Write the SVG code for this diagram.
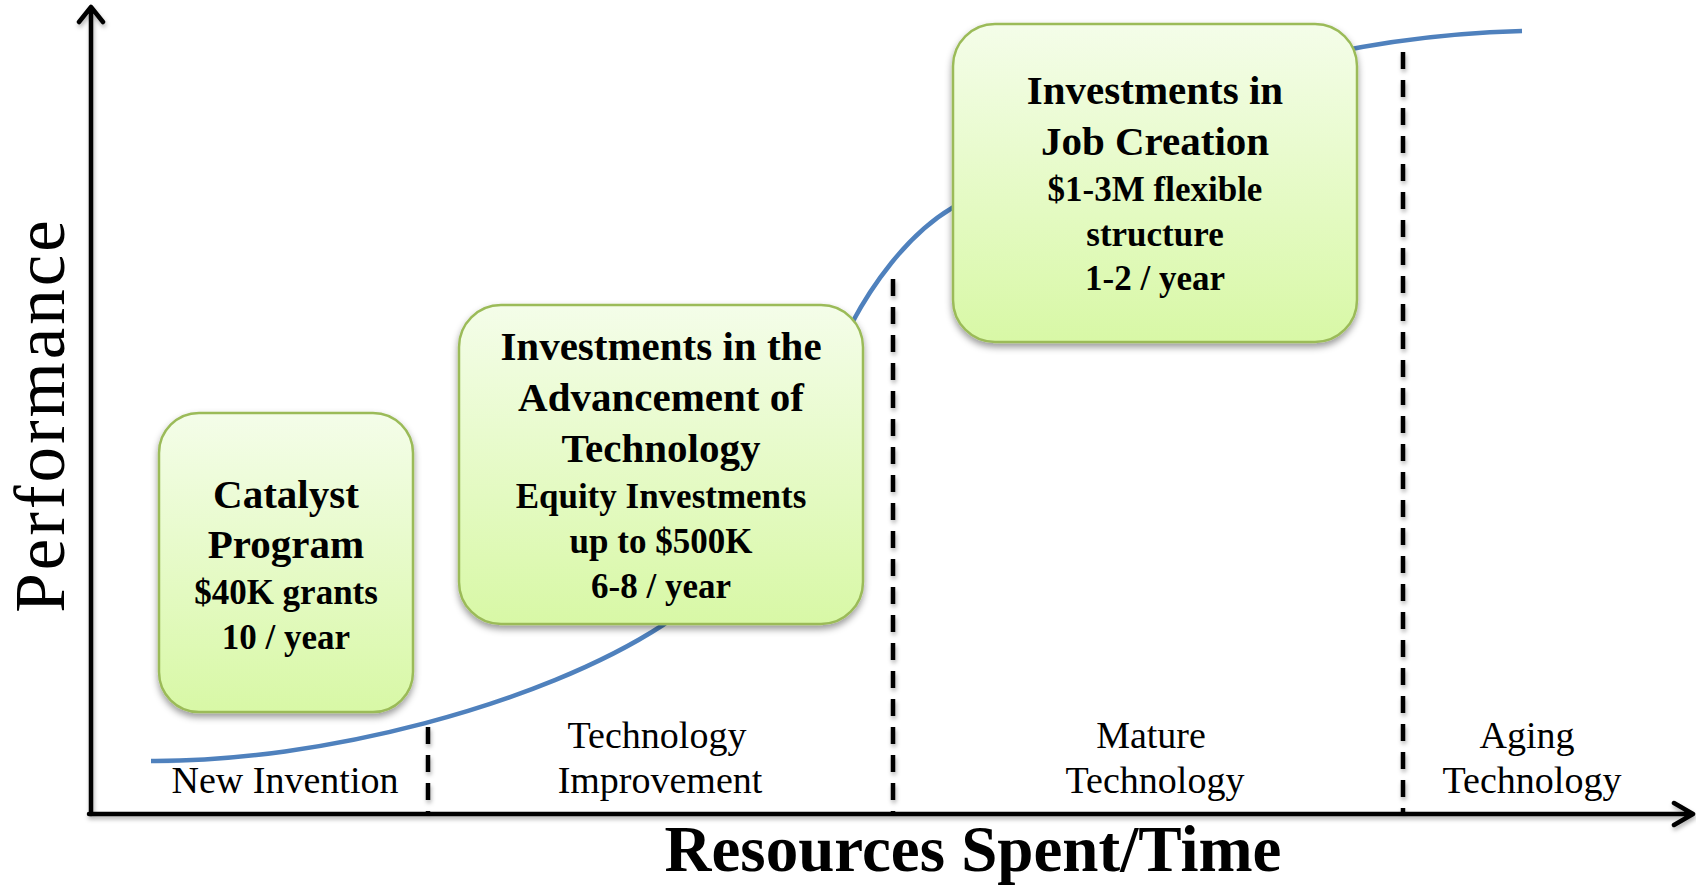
<svg xmlns="http://www.w3.org/2000/svg" width="1696" height="886" viewBox="0 0 1696 886">
<style>
.box{fill:url(#boxGrad);stroke:#9bbb59;stroke-width:2.5;filter:url(#shadow)}
.bt{font-family:"Liberation Serif",serif;font-weight:bold;font-size:41px;fill:#000;text-anchor:middle}
.bs{font-family:"Liberation Serif",serif;font-weight:bold;font-size:35px;fill:#000;text-anchor:middle}
.lbl{font-family:"Liberation Serif",serif;font-size:38px;fill:#000;text-anchor:middle}
.axis{stroke:#000;stroke-width:4.5;fill:none;stroke-linecap:round;stroke-linejoin:round}
.dash{stroke:#000;stroke-width:4.5;stroke-dasharray:17 11;fill:none}
.curve{stroke:#4f81bd;stroke-width:4.5;fill:none}
</style>
<defs>
<linearGradient id="boxGrad" x1="0" y1="0" x2="0" y2="1">
<stop offset="0" stop-color="#f4fde9"/>
<stop offset="1" stop-color="#d8f8a6"/>
</linearGradient>
<filter id="shadow" x="-10%" y="-10%" width="120%" height="125%">
<feDropShadow dx="0" dy="4" stdDeviation="3.5" flood-color="#000" flood-opacity="0.4"/>
</filter>
<filter id="lshadow" x="-5%" y="-5%" width="110%" height="110%">
<feDropShadow dx="1" dy="3" stdDeviation="2" flood-color="#000" flood-opacity="0.3"/>
</filter>
</defs>

<g id="connectors">
<path class="curve" d="M151,761 C320,762 540,705 663,625 C730,582 800,422 852,323 C870,289 905,236 952,208 C1060,143 1250,38 1522,31"/>
<g filter="url(#lshadow)">
<line class="dash" x1="428" y1="727" x2="428" y2="814"/>
<line class="dash" x1="893" y1="279" x2="893" y2="814"/>
<line class="dash" x1="1403" y1="52" x2="1403" y2="814"/>
<path class="axis" d="M91,814 L91,7 M79,22 L91,7 L103,22"/>
<path class="axis" d="M89,814 L1693,814 M1674,803 L1693,814 L1674,825"/>
</g>
</g>

<g id="node-catalyst">
<rect class="box" x="159" y="413" width="254" height="299" rx="40" ry="40"/>
<text class="bt" x="286" y="508">Catalyst</text>
<text class="bt" x="286" y="558">Program</text>
<text class="bs" x="286" y="604">$40K grants</text>
<text class="bs" x="286" y="649">10 / year</text>
</g>

<g id="node-advancement">
<rect class="box" x="459" y="305" width="404" height="319" rx="42" ry="42"/>
<text class="bt" x="661" y="360">Investments in the</text>
<text class="bt" x="661" y="411">Advancement of</text>
<text class="bt" x="661" y="462">Technology</text>
<text class="bs" x="661" y="508">Equity Investments</text>
<text class="bs" x="661" y="553">up to $500K</text>
<text class="bs" x="661" y="598">6-8 / year</text>
</g>

<g id="node-jobs">
<rect class="box" x="953" y="24" width="404" height="318" rx="42" ry="42"/>
<text class="bt" x="1155" y="104">Investments in</text>
<text class="bt" x="1155" y="155">Job Creation</text>
<text class="bs" x="1155" y="201">$1-3M flexible</text>
<text class="bs" x="1155" y="246">structure</text>
<text class="bs" x="1155" y="290">1-2 / year</text>
</g>

<g id="labels">
<text class="lbl" x="285" y="793">New Invention</text>
<text class="lbl" x="657" y="748">Technology</text>
<text class="lbl" x="660" y="793">Improvement</text>
<text class="lbl" x="1151" y="748">Mature</text>
<text class="lbl" x="1155" y="793">Technology</text>
<text class="lbl" x="1527" y="748">Aging</text>
<text class="lbl" x="1532" y="793">Technology</text>
<text x="973" y="871" font-family="Liberation Serif, serif" font-weight="bold" font-size="65" text-anchor="middle">Resources Spent/Time</text>
<text transform="translate(64,415) rotate(-90)" font-family="Liberation Serif, serif" font-size="71" letter-spacing="3" text-anchor="middle">Performance</text>
</g>
</svg>
